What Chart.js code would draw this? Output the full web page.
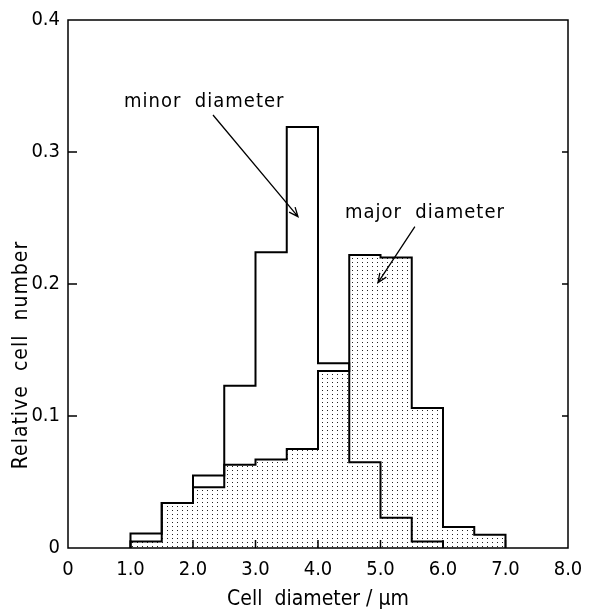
<!DOCTYPE html>
<html>
<head>
<meta charset="utf-8">
<script src="https://cdn.jsdelivr.net/npm/chart.js@4.4.1/dist/chart.umd.min.js"></script>
<style>
  body { margin: 0; background: #fff; }
  #wrap { width: 616px; height: 612px; }
</style>
</head>
<body>
<div id="wrap"><canvas id="histChart" width="616" height="612"></canvas></div>
<script>
// histogram bins (left edges), 0.5 um wide
const binStarts = [1.0, 1.5, 2.0, 2.5, 3.0, 3.5, 4.0, 4.5, 5.0, 5.5, 6.0, 6.5];
const binWidth = 0.5;
const minorValues = [0.011, 0.034, 0.055, 0.123, 0.224, 0.319, 0.140, 0.065, 0.023, 0.005, 0, 0];
const majorValues = [0.005, 0.034, 0.046, 0.063, 0.067, 0.075, 0.134, 0.222, 0.220, 0.106, 0.016, 0.010];
const xTickLabels = ["0", "1.0", "2.0", "3.0", "4.0", "5.0", "6.0", "7.0", "8.0"];
const yTickLabels = ["0", "0.1", "0.2", "0.3", "0.4"];

const FONT = '"DejaVu Sans Condensed", "Liberation Sans Narrow", "DejaVu Sans", sans-serif';

// turn bin values into points for a stepped outline
function stepPoints(values) {
  let last = values.length - 1;
  while (last > 0 && values[last] === 0) last--;
  const pts = [{ x: binStarts[0], y: 0 }];
  for (let i = 0; i <= last; i++) {
    pts.push({ x: binStarts[i], y: values[i] });
  }
  pts.push({ x: binStarts[last] + binWidth, y: values[last] });
  pts.push({ x: binStarts[last] + binWidth, y: 0 });
  return pts;
}

// dotted fill
const dots = document.createElement("canvas");
dots.width = 5;
dots.height = 4;
const dctx = dots.getContext("2d");
dctx.fillStyle = "#222";
dctx.fillRect(2, 2, 1, 1);

const ctx = document.getElementById("histChart").getContext("2d");
const dotFill = ctx.createPattern(dots, "repeat");

// label text + arrow, in data units
const notes = [
  { text: "minor  diameter", tx: 2.18, ty: 0.334, from: [2.32, 0.328], to: [3.68, 0.251] },
  { text: "major  diameter", tx: 5.71, ty: 0.25, from: [5.55, 0.2435], to: [4.96, 0.201] },
];

const overlayPlugin = {
  id: "overlay",
  afterDatasetsDraw(chart) {
    const {
      ctx,
      chartArea: { top, bottom, left, right },
      scales: { x, y },
    } = chart;
    ctx.save();
    ctx.strokeStyle = "#000";
    ctx.lineWidth = 1.5;
    ctx.strokeRect(left, top, right - left, bottom - top);

    // inward tick marks
    ctx.beginPath();
    y.ticks.forEach((t) => {
      const py = y.getPixelForValue(t.value);
      if (py > top + 1 && py < bottom - 1) {
        ctx.moveTo(left, py);
        ctx.lineTo(left + 9, py);
        ctx.moveTo(right, py);
        ctx.lineTo(right - 6, py);
      }
    });
    x.ticks.forEach((t) => {
      const px = x.getPixelForValue(t.value);
      if (px > left + 1 && px < right - 1) {
        ctx.moveTo(px, bottom);
        ctx.lineTo(px, bottom - 8);
      }
    });
    ctx.stroke();

    // annotations
    ctx.fillStyle = "#000";
    ctx.font = "20px " + FONT;
    ctx.letterSpacing = "1px";
    ctx.textAlign = "center";
    ctx.textBaseline = "alphabetic";
    ctx.lineWidth = 1.3;
    notes.forEach((n) => {
      ctx.fillText(n.text, x.getPixelForValue(n.tx), y.getPixelForValue(n.ty));
      const x1 = x.getPixelForValue(n.from[0]);
      const y1 = y.getPixelForValue(n.from[1]);
      const x2 = x.getPixelForValue(n.to[0]);
      const y2 = y.getPixelForValue(n.to[1]);
      const ang = Math.atan2(y2 - y1, x2 - x1);
      ctx.beginPath();
      ctx.moveTo(x1, y1);
      ctx.lineTo(x2, y2);
      ctx.moveTo(x2 - 10 * Math.cos(ang - 0.4), y2 - 10 * Math.sin(ang - 0.4));
      ctx.lineTo(x2, y2);
      ctx.lineTo(x2 - 10 * Math.cos(ang + 0.4), y2 - 10 * Math.sin(ang + 0.4));
      ctx.stroke();
    });

    // y axis title
    ctx.save();
    ctx.translate(22, 355);
    ctx.rotate(-Math.PI / 2);
    ctx.font = "21px " + FONT;
    ctx.textBaseline = "middle";
    ctx.fillText("Relative  cell  number", 0, 0);
    ctx.restore();

    ctx.restore();
  },
};

const histChart = new Chart(ctx, {
  type: "line",
  data: {
    datasets: [
      {
        label: "minor diameter",
        data: stepPoints(minorValues),
        stepped: "before",
        borderColor: "#000",
        borderWidth: 2,
        pointRadius: 0,
        fill: false,
        order: 0,
      },
      {
        label: "major diameter",
        data: stepPoints(majorValues),
        stepped: "before",
        borderColor: "#000",
        borderWidth: 2,
        pointRadius: 0,
        backgroundColor: dotFill,
        fill: "origin",
        order: 1,
      },
    ],
  },
  options: {
    responsive: false,
    animation: false,
    layout: { padding: { top: 18, right: 48, left: 0, bottom: 0 } },
    scales: {
      x: {
        type: "linear",
        min: 0,
        max: 8,
        grid: { display: false, drawTicks: false },
        border: { display: false },
        ticks: {
          stepSize: 1,
          padding: 10,
          color: "#000",
          font: { family: FONT, size: 20 },
          maxRotation: 0,
          callback: (v, i) => xTickLabels[i],
        },
        title: {
          display: true,
          text: "Cell  diameter / μm",
          color: "#000",
          font: { family: FONT, size: 21 },
          padding: 0,
        },
        afterFit(scale) {
          scale.height = 64;
        },
      },
      y: {
        min: 0,
        max: 0.4,
        grid: { display: false, drawTicks: false },
        border: { display: false },
        ticks: {
          stepSize: 0.1,
          padding: 8,
          color: "#000",
          font: { family: FONT, size: 20 },
          callback: (v, i) => yTickLabels[i],
        },
        afterFit(scale) {
          scale.width = 68;
        },
      },
    },
    plugins: {
      legend: { display: false },
      tooltip: { enabled: false },
    },
  },
  plugins: [overlayPlugin],
});
</script>
</body>
</html>
